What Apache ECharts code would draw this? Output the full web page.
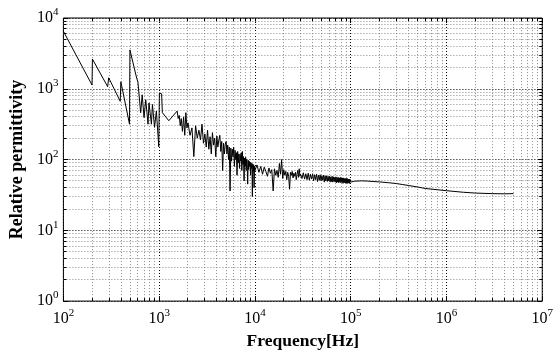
<!DOCTYPE html>
<html><head><meta charset="utf-8">
<script src="https://cdn.jsdelivr.net/npm/echarts@6/dist/echarts.min.js"></script>
<style>html,body{margin:0;padding:0;background:#fff}#c{width:556px;height:355px}</style>
</head><body><div id="c"></div>
<script>
// ---- data (frequency in Hz, relative permittivity) ----
const freqLow = [100,199,201,290,297,392,398,490,495,584,600,641,665,695,724,765,783,830,850,895,935,990,1005,1060,1080,1260,1540,1580,1620,1660,1700,1750,1800,1850,1900,1950];
const epsLow  = [6500,1130,2630,1070,1430,665,1257,316,3540,1390,1250,458,822,392,700,316,630,316,600,285,485,152,870,850,460,354,484,380,420,300,380,250,400,220,460,280];

const freqMid1 = [2000,2100,2200,2300,2400,2500,2600,2700,2800,2900,3000,3100,3200,3300,3400,3500,3600,3700,3800,3900,4000,4100,4200,4300,4400,4500,4600,4700,4800,4900];
const epsMid1  = [330,220,280,110,300,200,260,190,316,170,230,150,260,140,210,120,240,160,200,110,215,150,190,220,130,180,70,170,120,165];

const freqMid2 = [5000,5100,5200,5300,5400,5500,5600,5700,5800,5900,6000,6100,6200,6300,6400,6500,6600,6700,6800,6900,7000,7100,7200,7300,7400,7500,7600,7700,7800,7900,8000,8100,8200,8300,8400,8500,8600,8700,8800,8900,9000,9100,9200,9300,9400,9500,9600,9700,9800,9900];
const epsMid2  = [180,120,160,100,150,36,145,95,140,110,150,80,135,100,125,60,130,90,120,75,118,95,125,70,130,85,110,50,105,80,108,70,100,85,45,98,72,95,80,92,60,90,75,88,30,86,68,84,40,80];

const freqHigh1 = [10000,10500,11000,11500,12000,12500,13000,13500,14000,14500,15000,15500,16000,16500,17000,17500,18000,18500,19000,19500,20000,20500,21000,21500,22000,22500,23000,23500,24000,24500,25000,25500,26000,26500,27000,27500,28000,28500,29000,29500,30000];
const epsHigh1  = [70,84,66,80,62,78,68,58,76,64,72,36,74,60,70,56,88,62,100,54,72,60,68,52,66,58,38,66,60,68,55,64,58,66,52,62,70,56,74,58,62];

const freqHigh2 = [31000,32000,33000,34000,35000,36000,37000,38000,39000,40000,41000,42000,43000,44000,45000,46000,47000,48000,49000,50000,51000,52000,53000,54000,55000,56000,57000,58000,59000,60000,61000,62000,63000,64000,65000,66000,67000,68000,69000,70000,71000,72000,73000,74000,75000,76000,77000,78000,79000,80000,81000,82000,83000,84000,85000,86000,87000,88000,89000,90000,91000,92000,93000,94000,95000,96000,97000,98000,99000,100000];
const epsHigh2  = [54,65,53,63,52,64,51,62,53,63,50,61,52,62,49,60,51,61,50,59,51,60,48,59,50,59,49,58,50,58,48,57,49,58,48,57,49,56,48,57,47,56,48,56,47,55,48,56,47,55,48,55,46,55,47,54,47,54,46,54,47,54,46,53,47,53,46,53,48,47];

const freqTail = [110000,130000,150000,170000,200000,250000,300000,350000,400000,500000,600000,800000,1000000,1500000,2000000,3000000,4000000,5000000];
const epsTail  = [49.5,50,49.6,49,48.3,47,45.8,44.3,43,41,39,37.5,36.3,34.5,33.6,33.0,32.8,33.0];

// ---- axes ----
const xTickValues = [1e2,1e3,1e4,1e5,1e6,1e7];
const xTickLabels = ['2','3','4','5','6','7'];
const yTickValues = [1e0,1e1,1e2,1e3,1e4];
const yTickLabels = ['0','1','2','3','4'];
const minorMantissa = [2,3,4,5,6,7,8,9];

const FONT = '"Liberation Serif","DejaVu Serif",serif';

const freqAll = [].concat(freqLow, freqMid1, freqMid2, freqHigh1, freqHigh2, freqTail);
const epsAll  = [].concat(epsLow, epsMid1, epsMid2, epsHigh1, epsHigh2, epsTail);
const lineData = freqAll.map((f, i) => [f, epsAll[i]]);

const xMinor = [];
xTickValues.slice(0, -1).forEach(d => minorMantissa.forEach(m => xMinor.push(m * d)));
const yMinor = [];
yTickValues.slice(0, -1).forEach(d => minorMantissa.forEach(m => yMinor.push(m * d)));

const X0 = xTickValues[0], X1 = xTickValues[xTickValues.length - 1];
const Y0 = yTickValues[0], Y1 = yTickValues[yTickValues.length - 1];

function lookup(vals, labels, v) {
  for (let i = 0; i < vals.length; i++) {
    if (Math.abs(Math.log10(vals[i]) - Math.log10(v)) < 1e-6) return labels[i];
  }
  return '';
}
const rich = {
  b: {fontFamily: FONT, fontSize: 16, lineHeight: 22, color: '#000'},
  s: {fontFamily: FONT, fontSize: 11, lineHeight: 11, verticalAlign: 'top', color: '#000'}
};

const MINOR_GRID = '#8a8a8a';
function crisp(v) { return Math.round(v - 0.5) + 0.5; }

const option = {
  animation: false,
  backgroundColor: '#fff',
  grid: {left: 62, right: 11, top: 18, bottom: 47, show: true, borderColor: '#000', borderWidth: 1, backgroundColor: 'transparent'},
  xAxis: [{
    type: 'log', logBase: 10, min: X0, max: X1, position: 'bottom',
    name: 'Frequency[Hz]', nameLocation: 'middle', nameGap: 27,
    nameTextStyle: {fontFamily: FONT, fontWeight: 'bold', fontSize: 17.5, color: '#000'},
    axisLine: {show: false},
    axisTick: {show: true, inside: true, length: 5, lineStyle: {color: '#000', width: 1}},
    axisLabel: {show: true, margin: 7, showMinLabel: true, showMaxLabel: true,
      formatter: v => '{b|10}{s|' + lookup(xTickValues, xTickLabels, v) + '}', rich: rich},
    splitLine: {show: true, lineStyle: {color: '#000', width: 1, type: [1, 2]}}
  }, {
    type: 'log', logBase: 10, min: X0, max: X1, position: 'top',
    axisLine: {show: false},
    axisTick: {show: true, inside: true, length: 5, lineStyle: {color: '#000', width: 1}},
    axisLabel: {show: false}, splitLine: {show: false}
  }],
  yAxis: [{
    type: 'log', logBase: 10, min: Y0, max: Y1, position: 'left',
    name: 'Relative permittivity', nameLocation: 'middle', nameGap: 36, nameRotate: 90,
    nameTextStyle: {fontFamily: FONT, fontWeight: 'bold', fontSize: 18, color: '#000'},
    axisLine: {show: false},
    axisTick: {show: true, inside: true, length: 5, lineStyle: {color: '#000', width: 1}},
    axisLabel: {show: true, margin: 5, showMinLabel: true, showMaxLabel: true,
      formatter: v => '{b|10}{s|' + lookup(yTickValues, yTickLabels, v) + '}', rich: rich},
    splitLine: {show: true, lineStyle: {color: '#000', width: 1, type: [1, 2]}}
  }, {
    type: 'log', logBase: 10, min: Y0, max: Y1, position: 'right',
    axisLine: {show: false},
    axisTick: {show: true, inside: true, length: 5, lineStyle: {color: '#000', width: 1}},
    axisLabel: {show: false}, splitLine: {show: false}
  }],
  series: [{
    type: 'custom', xAxisIndex: 0, yAxisIndex: 0, silent: true, z: 1,
    data: xMinor.map(v => [v, Y0]),
    renderItem: (params, api) => {
      const v = api.value(0);
      const pb = api.coord([v, Y0]), pt = api.coord([v, Y1]);
      const x = crisp(pb[0]);
      return {type: 'group', children: [
        {type: 'line', shape: {x1: x, y1: pb[1], x2: x, y2: pt[1]}, style: {stroke: MINOR_GRID, lineWidth: 1, lineDash: [1, 2]}},
        {type: 'line', shape: {x1: x, y1: pb[1], x2: x, y2: pb[1] - 3}, style: {stroke: '#000', lineWidth: 1}},
        {type: 'line', shape: {x1: x, y1: pt[1], x2: x, y2: pt[1] + 3}, style: {stroke: '#000', lineWidth: 1}}
      ]};
    }
  }, {
    type: 'custom', xAxisIndex: 0, yAxisIndex: 0, silent: true, z: 1,
    data: yMinor.map(v => [X0, v]),
    renderItem: (params, api) => {
      const v = api.value(1);
      const pl = api.coord([X0, v]), pr = api.coord([X1, v]);
      const y = crisp(pl[1]);
      return {type: 'group', children: [
        {type: 'line', shape: {x1: pl[0], y1: y, x2: pr[0], y2: y}, style: {stroke: MINOR_GRID, lineWidth: 1, lineDash: [1, 2]}},
        {type: 'line', shape: {x1: pl[0], y1: y, x2: pl[0] + 3, y2: y}, style: {stroke: '#000', lineWidth: 1}},
        {type: 'line', shape: {x1: pr[0], y1: y, x2: pr[0] - 3, y2: y}, style: {stroke: '#000', lineWidth: 1}}
      ]};
    }
  }, {
    type: 'line', xAxisIndex: 0, yAxisIndex: 0, z: 5,
    data: lineData, showSymbol: false, symbol: 'none', sampling: null,
    lineStyle: {color: '#000', width: 1}
  }]
};

const chart = echarts.init(document.getElementById('c'), null, {renderer: 'canvas'});
chart.setOption(option);
</script>
</body></html>
